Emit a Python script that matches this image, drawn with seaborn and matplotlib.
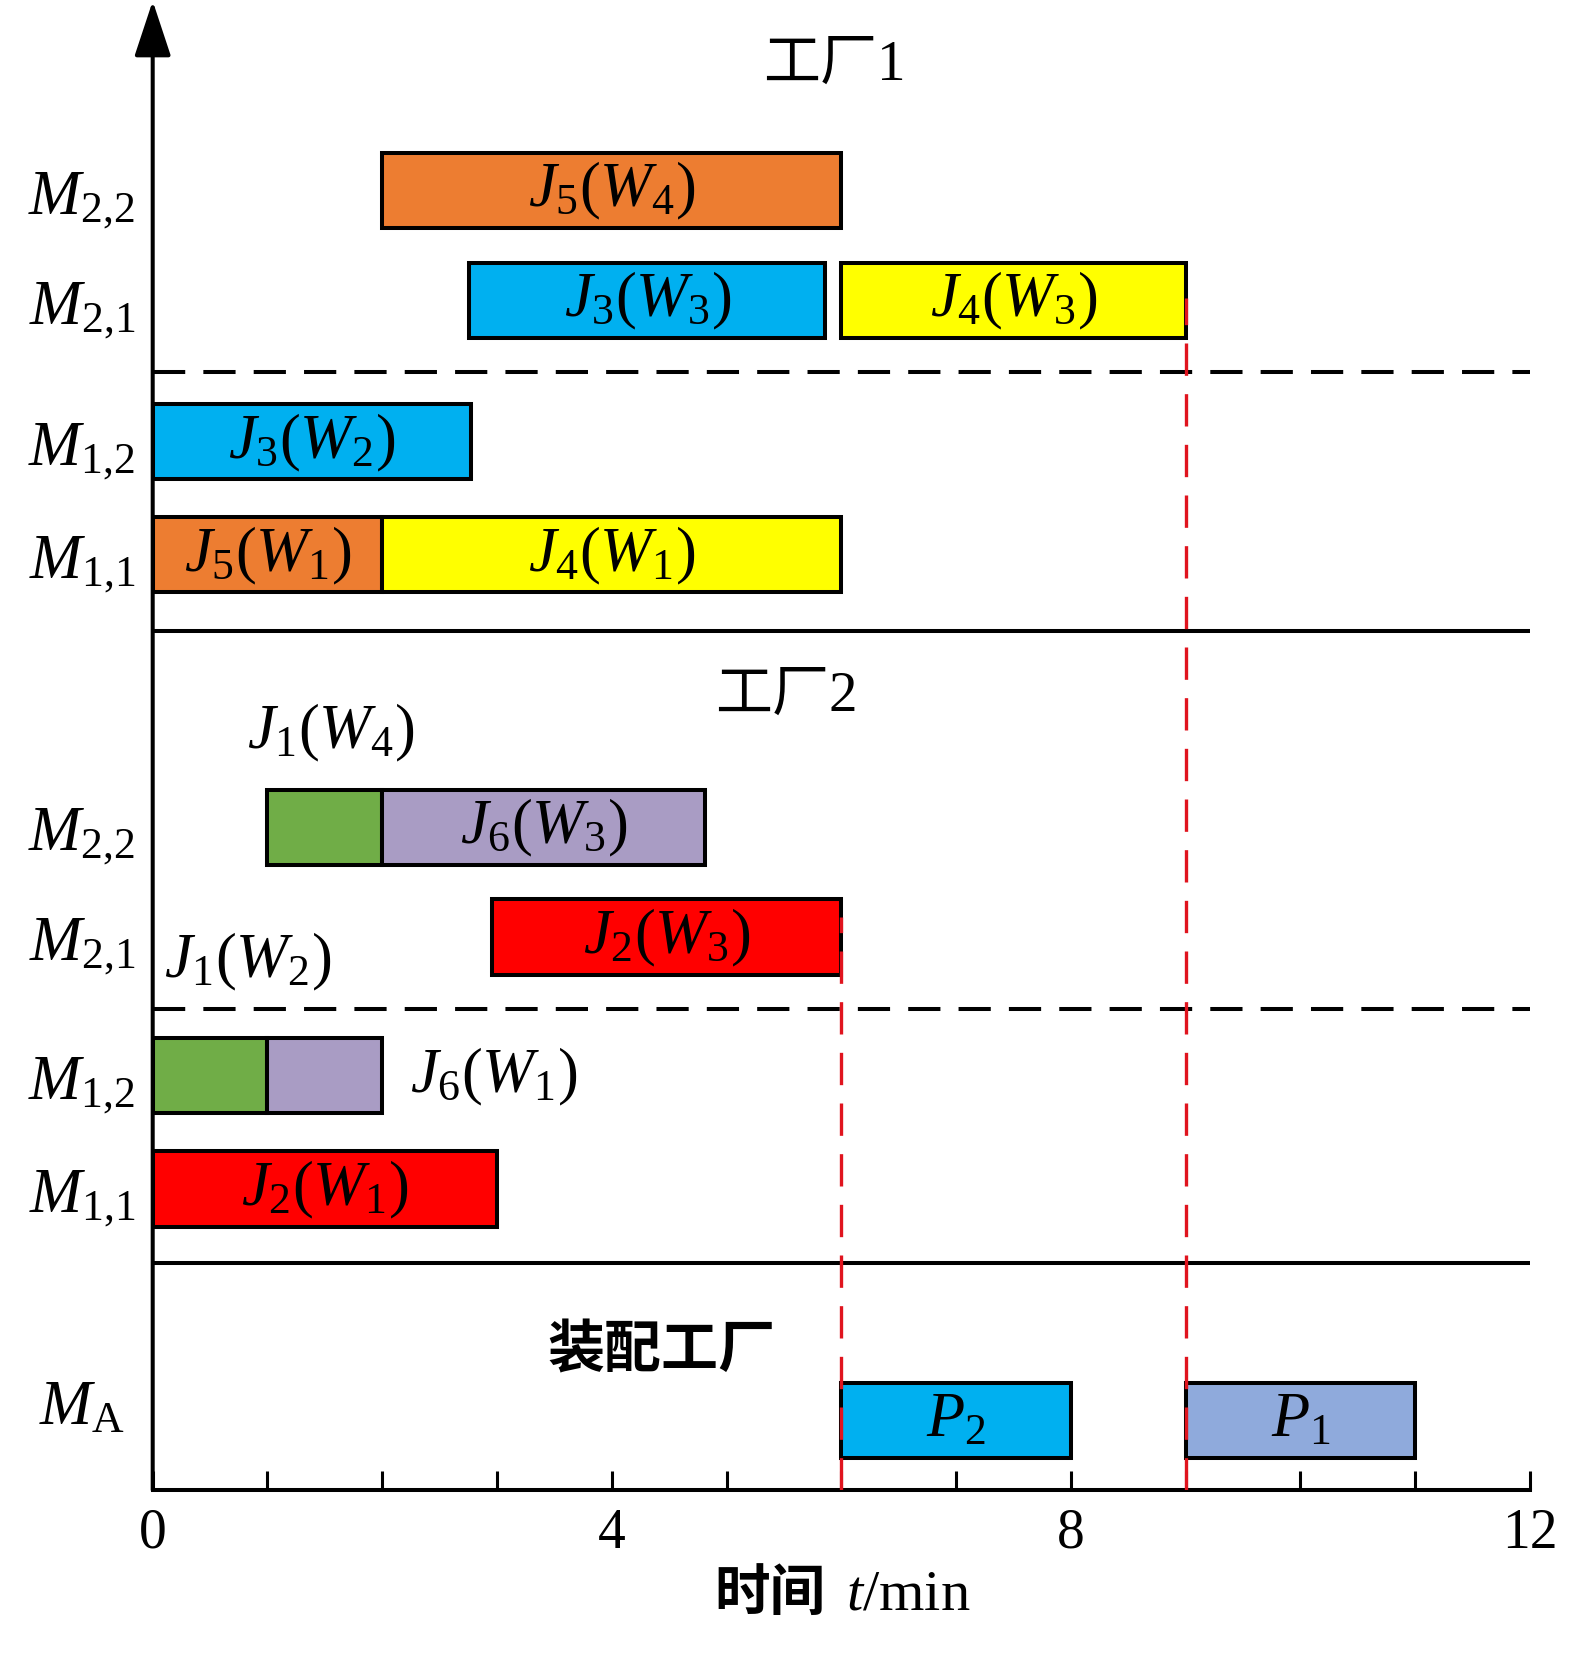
import matplotlib
matplotlib.use('Agg')
import matplotlib.pyplot as plt
import seaborn as sns

# 机器 (从上到下)
machines = ['$M_{2{,}2}$', '$M_{2{,}1}$', '$M_{1{,}2}$', '$M_{1{,}1}$',
            '$M_{2{,}2}$', '$M_{2{,}1}$', '$M_{1{,}2}$', '$M_{1{,}1}$', '$M_{\\mathrm{A}}$']

# 工序: 所在机器, 开始, 结束, 标签, 颜色
task_row = [0, 1, 1, 2, 3, 3, 4, 4, 5, 6, 6, 7, 8, 8]
task_start = [2, 2.76, 6, 0, 0, 2, 1, 2, 2.96, 0, 1, 0, 6, 9]
task_end = [6, 5.86, 9, 2.77, 2, 6, 2, 4.81, 6, 1, 2, 3, 8, 11]
task_label = ['$J_5(W_4)$', '$J_3(W_3)$', '$J_4(W_3)$', '$J_3(W_2)$',
              '$J_5(W_1)$', '$J_4(W_1)$', '', '$J_6(W_3)$', '$J_2(W_3)$',
              '', '', '$J_2(W_1)$', '$P_2$', '$P_1$']
task_color = ['#ED7D31', '#00B0F0', '#FFFF00', '#00B0F0', '#ED7D31', '#FFFF00',
              '#70AD47', '#A99CC4', '#FF0000', '#70AD47', '#A99CC4', '#FF0000',
              '#00B0F0', '#8FAADC']

# 外部标注
note_text = ['$J_1(W_4)$', '$J_1(W_2)$', '$J_6(W_1)$']
note_x = [1.55, 0.83, 2.97]
note_y = [9.59, 6.70, 5.24]

# 工厂名
title_text = ['工厂1', '工厂2', '装配工厂']
title_x = [5.94, 5.52, 4.43]
title_y = [18.04, 10.05, 1.76]
title_weight = ['normal', 'normal', 'bold']

# 完工时间红线
finish_time = [6, 9]
finish_top = [7.25, 15.09]

# 布局
row_y = [16.45, 15.06, 13.27, 11.84, 8.39, 7.0, 5.25, 3.81, 0.88]
label_dy = [-0.28] * 8 + [-0.04]
label_x = [-0.15] * 8 + [-0.24]
dashed_y = [14.15, 6.09]
solid_y = [10.87, 2.87]
y_top = 1489 / 79

sns.set_theme(style='white')
plt.rcParams['font.family'] = ['Liberation Serif', 'Noto Sans CJK SC']
plt.rcParams['mathtext.fontset'] = 'custom'
plt.rcParams['mathtext.rm'] = 'Liberation Serif'
plt.rcParams['mathtext.it'] = 'Liberation Serif:italic'
plt.rcParams['text.color'] = 'black'
plt.rcParams['xtick.color'] = 'black'
plt.rcParams['xtick.labelcolor'] = 'black'

fig = plt.figure(figsize=(15.94, 16.56), dpi=100)
ax = fig.add_axes([152.7 / 1594, 165 / 1656, 1377.3 / 1594, 1489 / 1656])
ax.set_xlim(0, 12)
ax.set_ylim(0, y_top)

# 甘特条
for r, s, e, lab, c in zip(task_row, task_start, task_end, task_label, task_color):
    ax.barh(row_y[r], e - s, left=s, height=0.95, color=c,
            edgecolor='black', linewidth=2.9, zorder=3)
    if lab:
        ax.text((s + e) / 2, row_y[r], lab, ha='center', va='center',
                fontsize=45, zorder=4)

for t, x, y in zip(note_text, note_x, note_y):
    ax.text(x, y, t, ha='center', va='center', fontsize=45)

for t, x, y, w in zip(title_text, title_x, title_y, title_weight):
    ax.text(x, y, t, ha='center', va='center', fontsize=41, fontweight=w)

for m, y, dy, x in zip(machines, row_y, label_dy, label_x):
    ax.text(x, y + dy, m, ha='right', va='baseline', fontsize=45, clip_on=False)

# 分隔线
for y in dashed_y:
    ax.plot([0, 12], [y, y], color='black', lw=2.9, ls=(0, (8, 4.5)), zorder=2)
for y in solid_y:
    ax.plot([0, 12], [y, y], color='black', lw=2.9, zorder=2)

for x, top in zip(finish_time, finish_top):
    ax.plot([x, x], [0, top], color='#E0141E', lw=2.4, ls=(0, (9.7, 5.5)), zorder=5)

# 坐标轴
sns.despine(ax=ax, left=True)
ax.spines['bottom'].set_linewidth(2.9)
ax.spines['bottom'].set_color('black')
ax.annotate('', xy=(0, y_top), xytext=(0, 0), xycoords='data',
            arrowprops=dict(arrowstyle='-|>,head_length=1.15,head_width=0.38',
                            mutation_scale=30, lw=2.9, color='black',
                            shrinkA=0, shrinkB=0),
            annotation_clip=False, zorder=6)

ax.set_xticks(range(13), labels=['0', '', '', '', '4', '', '', '', '8', '', '', '', '12'])
ax.set_yticks([])
ax.tick_params(axis='x', direction='in', length=13.7, width=2.2, color='black',
               labelsize=40, pad=12, bottom=True)

# 横轴标题
ax.text(5.86, -1.5, '时间', ha='right', va='baseline', fontsize=40,
        fontweight='bold', clip_on=False)
ax.text(6.04, -1.5, '$t$/min', ha='left', va='baseline', fontsize=42, clip_on=False)

fig.savefig('out.png', dpi=100)
